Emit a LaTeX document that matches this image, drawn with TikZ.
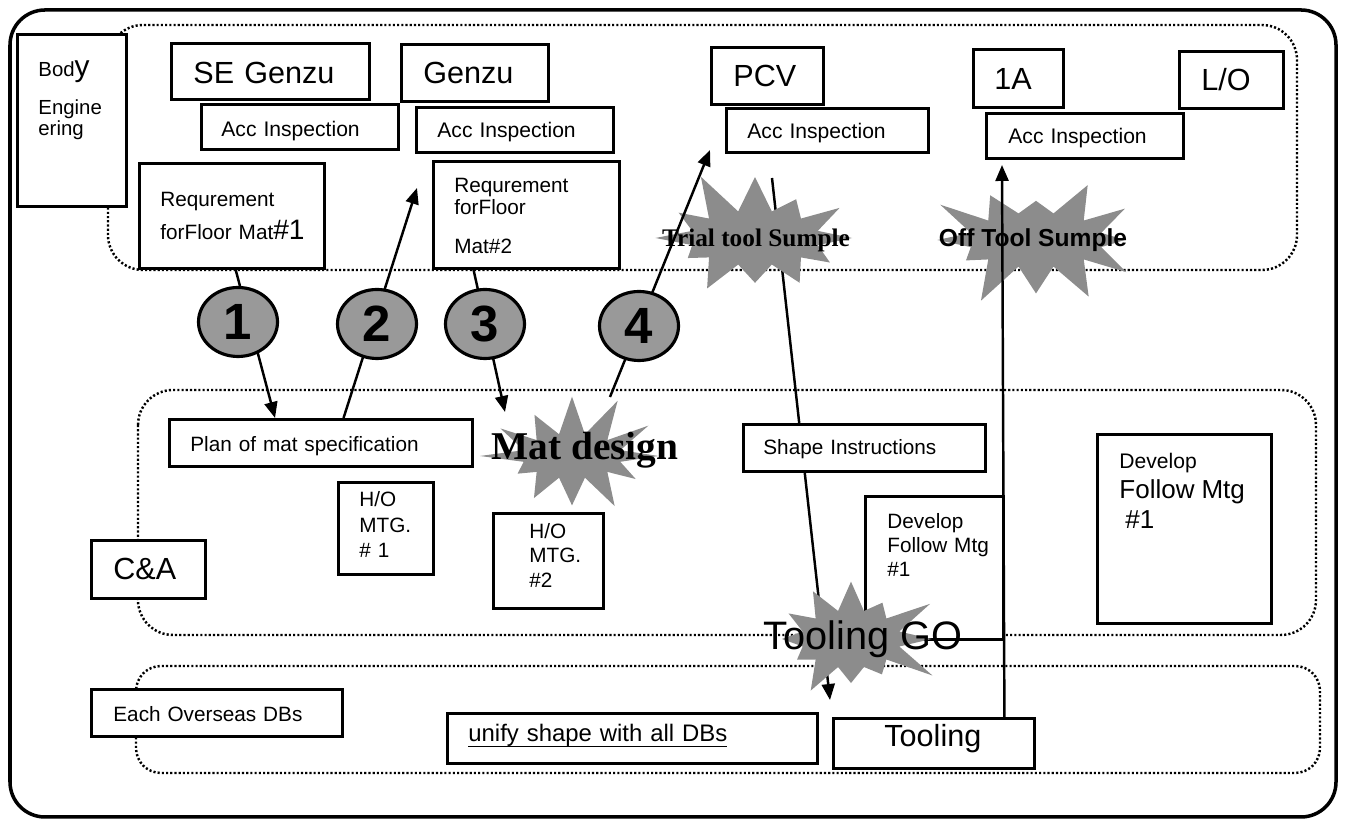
\documentclass[tikz,border=0pt]{standalone}
\usepackage{fontspec}
\setmainfont{Liberation Sans}
\newfontfamily\serifbf{Liberation Serif}
\usetikzlibrary{shapes.geometric, shapes.symbols, arrows.meta, calc}

\begin{document}
\begin{tikzpicture}[
  x=1cm,
  y=1cm,
  every node/.style={inner sep=2pt},
  tbox/.style={draw, line width=0.8pt, fill=white, anchor=north west, align=left, inner ysep=0pt},
  band/.style={line width=0.7pt, dash pattern=on 0.6pt off 0.6pt, rounded corners=0.35cm},
  conn/.style={line width=0.7pt, -{Triangle[length=1.6mm, width=1.3mm]}},
  ball/.style={ellipse, draw, line width=0.9pt, fill=black!40, minimum width=0.79cm, minimum height=0.69cm, inner sep=0pt, font=\fontsize{14.5}{14.5}\selectfont\bfseries},
  burst/.style={starburst, fill=black!45, draw=none, inner sep=0pt, starburst points=12, starburst point height=0.45cm},
  txsmall/.style={font=\fontsize{5.9}{7.1}\selectfont},
  txacc/.style={font=\fontsize{6}{7}\selectfont},
  txbig/.style={font=\fontsize{8.7}{10}\selectfont}
]

\useasboundingbox (0,0) rectangle (13.45,-8.24);

\draw[line width=1pt, rounded corners=0.35cm] (0.10,-0.10) rectangle (13.36,-8.17);

% swim lanes
\draw[band] (1.08,-0.25) rectangle (12.97,-2.70);
\draw[band] (1.38,-3.90) rectangle (13.16,-6.35);
\draw[band, rounded corners=0.25cm] (1.36,-6.66) rectangle (13.20,-7.73);

\coordinate (tip2)   at (4.17,-1.88);
\coordinate (tip3)   at (5.05,-4.12);
\coordinate (from4)  at (6.10,-3.97);
\coordinate (tip4)   at (7.10,-1.50);
\coordinate (shptop) at (7.72,-1.78);
\coordinate (uptip)  at (10.02,-1.65);

\node[tbox, txbig, inner xsep=0.51cm, text width=0.99cm, text height=0.28cm, text depth=0.22cm]
  (tooling) at (8.32,-7.17) {Tooling};

\draw[line width=0.7pt, -{Triangle[length=1.6mm, width=1.3mm]}]
  (shptop) -- ($(tooling.north west)+(-0.02,0.17)$);

% Body Engineering row
\node[tbox, font=\fontsize{5.8}{6}\selectfont, inner xsep=0.21cm, text width=0.67cm, text height=0.42cm, text depth=1.30cm]
  (body) at (0.16,-0.33) {Bod{\fontsize{8.5}{8.5}\selectfont y}\\[4.8pt]Engine\\ering};

\node[tbox, txbig, inner xsep=0.22cm, text width=1.54cm, text height=0.40cm, text depth=0.16cm]
  (segenzu) at (1.70,-0.42) {SE Genzu};
\node[tbox, txacc, inner xsep=0.20cm, text width=1.57cm, text height=0.32cm, text depth=0.13cm]
  (acc1) at (2.00,-1.03) {Acc Inspection};
\node[tbox, font=\fontsize{5.9}{9.4}\selectfont, inner xsep=0.21cm, text width=1.43cm, text height=0.43cm, text depth=0.62cm]
  (req1) at (1.38,-1.62) {Requrement\\\mbox{forFloor Mat{\fontsize{8}{8}\selectfont\#1}}};

\node[tbox, txbig, inner xsep=0.22cm, text width=1.03cm, text height=0.39cm, text depth=0.18cm]
  (genzu) at (4.00,-0.43) {Genzu};
\node[tbox, txacc, inner xsep=0.21cm, text width=1.55cm, text height=0.30cm, text depth=0.15cm]
  (acc2) at (4.15,-1.06) {Acc Inspection};
\node[tbox, font=\fontsize{5.9}{6.3}\selectfont, inner xsep=0.21cm, text width=1.44cm, text height=0.31cm, text depth=0.76cm]
  (req2) at (4.32,-1.60) {Requrement\\forFloor\\[4.8pt]Mat\#2};

\node[tbox, txbig, inner xsep=0.22cm, text width=0.68cm, text height=0.39cm, text depth=0.18cm]
  (pcv) at (7.10,-0.46) {PCV};
\node[tbox, txacc, inner xsep=0.21cm, text width=1.60cm, text height=0.30cm, text depth=0.14cm]
  (acc3) at (7.25,-1.07) {Acc Inspection};

\node[tbox, txbig, inner xsep=0.21cm, text width=0.48cm, text height=0.40cm, text depth=0.18cm]
  (onea) at (9.72,-0.48) {1A};
\node[tbox, txbig, inner xsep=0.22cm, text width=0.60cm, text height=0.39cm, text depth=0.18cm]
  (lo) at (11.78,-0.50) {L/O};
\node[tbox, txacc, inner xsep=0.22cm, text width=1.53cm, text height=0.30cm, text depth=0.15cm]
  (acc4) at (9.85,-1.12) {Acc Inspection};

% C&A row
\node[tbox, txsmall, inner xsep=0.21cm, text width=2.61cm, text height=0.32cm, text depth=0.15cm]
  (plan) at (1.68,-4.18) {Plan of mat specification};
\node[tbox, font=\fontsize{5.9}{7.3}\selectfont, inner xsep=0.21cm, text width=0.53cm, text height=0.24cm, text depth=0.68cm]
  (homtga) at (3.37,-4.81) {H/O\\MTG.\\\# 1};
\node[tbox, font=\fontsize{5.9}{7}\selectfont, inner xsep=0.36cm, text width=0.38cm, text height=0.25cm, text depth=0.70cm]
  (homtgb) at (4.92,-5.12) {H/O\\MTG.\\\#2};
\node[tbox, txsmall, inner xsep=0.20cm, text width=2.02cm, text height=0.30cm, text depth=0.17cm]
  (shapeins) at (7.42,-4.23) {Shape Instructions};
\node[tbox, font=\fontsize{5.9}{6.8}\selectfont, inner xsep=0.22cm, text width=0.94cm, text height=0.32cm, text depth=1.11cm]
  (devsmall) at (8.64,-4.95) {Develop\\\mbox{Follow Mtg}\\\#1};
\node[tbox, font=\fontsize{6}{8.5}\selectfont, inner xsep=0.22cm, text width=1.30cm, text height=0.34cm, text depth=1.55cm]
  (devbig) at (10.96,-4.33) {Develop\\{\fontsize{7.4}{8.5}\selectfont Follow Mtg\\\hspace{0.6mm}\#1}};
\node[tbox, txbig, inner xsep=0.22cm, text width=0.70cm, text height=0.39cm, text depth=0.19cm]
  (ca) at (0.90,-5.39) {C\&A};

% DBs row
\node[tbox, txsmall, inner xsep=0.22cm, text width=2.07cm, text height=0.32cm, text depth=0.15cm]
  (overseas) at (0.90,-6.88) {Each Overseas DBs};
\node[tbox, font=\fontsize{6.8}{8}\selectfont, inner xsep=0.21cm, text width=3.28cm, text height=0.28cm, text depth=0.22cm]
  (unify) at (4.46,-7.12) {\underline{\smash{unify shape with all DBs}}};

% bursts
\node[burst, minimum width=2.20cm, minimum height=1.45cm, random starburst=11] (trial)     at (7.55,-2.38) {};
\node[burst, minimum width=2.25cm, minimum height=1.45cm, random starburst=23] (offtool)   at (10.36,-2.40) {};
\node[burst, minimum width=1.90cm, minimum height=1.35cm, random starburst=37] (matdesign) at (5.72,-4.56) {};
\node[burst, minimum width=1.90cm, minimum height=1.48cm, random starburst=51] (toolgo)    at (8.51,-6.39) {};

% numbered steps
\draw[conn] ($(req1.south west)!0.52!(req1.south east)$) -- ($(plan.north west)!0.35!(plan.north east)$);
\draw[conn] ($(plan.north west)!0.574!(plan.north east)$) -- (tip2);
\draw[conn] ($(req2.south west)!0.22!(req2.south east)$) -- (tip3);
\draw[conn] (from4) -- (tip4);
\draw[conn] ($(tooling.north west)!0.846!(tooling.north east)$) -- (uptip);

\node[ball] (c1) at (2.38,-3.22) {1};
\node[ball] (c2) at (3.77,-3.24) {2};
\node[ball] (c3) at (4.85,-3.24) {3};
\node[ball] (c4) at (6.39,-3.26) {4};

\node[anchor=base, font=\serifbf\bfseries\fontsize{7.2}{8}\selectfont] (trialtxt) at (7.56,-2.47) {Trial tool Sumple};
\node[anchor=base, font=\bfseries\fontsize{7}{8}\selectfont] (offtxt) at (10.33,-2.47) {Off Tool Sumple};
\node[anchor=base, font=\serifbf\bfseries\fontsize{11.2}{12}\selectfont] (mattxt) at (5.85,-4.60) {Mat design};
\node[anchor=base, font=\fontsize{11.3}{12}\selectfont] (gotxt) at (8.63,-6.50) {Tooling GO};

\end{tikzpicture}
\end{document}
